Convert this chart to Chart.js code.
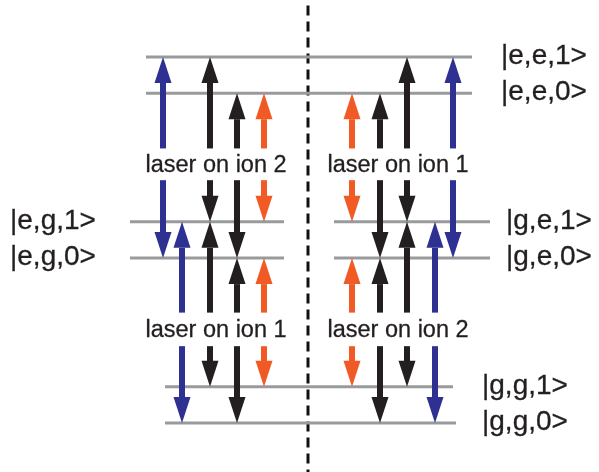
<!DOCTYPE html>
<html><head><meta charset="utf-8">
<script src="https://cdn.jsdelivr.net/npm/chart.js@4.4.1/dist/chart.umd.min.js"></script>
<style>html,body{margin:0;padding:0;background:#fff}#wrap{width:599px;height:472px}</style>
</head><body><div id="wrap"><canvas id="c" width="599" height="472"></canvas></div>
<script>
// ---- Energy levels (energy in arbitrary units, horizontal extent in diagram units) ----
const levelNames  = ['|g,g,0>','|g,g,1>','|e,g,0>','|e,g,1>','|g,e,0>','|g,e,1>','|e,e,0>','|e,e,1>'];
const levelEnergy = [0, 1, 4.55, 5.55, 4.55, 5.55, 9.1, 10.1];
const levelStart  = [16.5, 16.5, 13.0, 13.0, 33.4, 33.4, 14.6, 14.6];
const levelEnd    = [45.6, 45.3, 28.4, 28.4, 49.0, 49.0, 47.2, 47.2];
const labelX      = [48.2, 48.2, 1.0, 1.0, 50.6, 50.6, 50.1, 50.1];

// ---- Transitions: upper group (between |e,g>/|g,e> and |e,e>) ----
const upperColumn = [16.3, 21.0, 23.7, 26.4, 35.2, 38.0, 40.7, 45.3];
const upperUpTo   = [10.1, 10.1, 9.1, 9.1, 9.1, 9.1, 10.1, 10.1];
const upperDownTo = [4.55, 5.55, 4.55, 5.55, 5.55, 4.55, 5.55, 4.55];
const upperKind   = ['blue','carrier','carrier','red','red','carrier','carrier','blue'];
// ---- Transitions: lower group (between |g,g> and |e,g>/|g,e>) ----
const lowerColumn = [18.2, 21.0, 23.7, 26.4, 35.2, 38.0, 40.7, 43.5];
const lowerUpTo   = [5.55, 5.55, 4.55, 4.55, 4.55, 4.55, 5.55, 5.55];
const lowerDownTo = [0, 1, 0, 1, 1, 0, 1, 0];
const lowerKind   = ['blue','carrier','carrier','red','red','carrier','carrier','blue'];
// gap around the labels (energy units): [shaft start above label, shaft start below label]
const upperGap = [7.59, 6.7];
const lowerGap = [3.06, 2.12];

// ---- Laser labels ----
const laserText = ['laser on ion 2', 'laser on ion 1', 'laser on ion 1', 'laser on ion 2'];
const laserX    = [14.55, 32.75, 14.55, 32.75];
const laserE    = [6.926, 6.926, 2.373, 2.373];

// divider position
const dividerX = 30.8;

const kindColor = {blue:'#2E3192', carrier:'#231F20', red:'#F15A24'};
const levelColor = '#999A9C';

const arrows = [];
function addGroup(cols, upTo, downTo, kinds, gap){
  cols.forEach((c,i)=>{
    arrows.push({x:c, from:gap[0], to:upTo[i], color:kindColor[kinds[i]]});
    arrows.push({x:c, from:gap[1], to:downTo[i], color:kindColor[kinds[i]]});
  });
}
addGroup(upperColumn, upperUpTo, upperDownTo, upperKind, upperGap);
addGroup(lowerColumn, lowerUpTo, lowerDownTo, lowerKind, lowerGap);

const datasets = levelNames.map((n,i)=>({
  label:n,
  data:[{x:levelStart[i],y:levelEnergy[i]},{x:levelEnd[i],y:levelEnergy[i]}],
  showLine:true, borderColor:levelColor, borderWidth:3, pointRadius:0, fill:false, borderCapStyle:'butt'
}));
datasets.push({
  label:'divider',
  data:[{x:dividerX,y:-2},{x:dividerX,y:12}],
  showLine:true, borderColor:'#111', borderWidth:3, borderDash:[10,6], pointRadius:0, fill:false
});

const drawPlugin = {
  id:'diagram',
  afterDatasetsDraw(chart){
    const ctx = chart.ctx, xs = chart.scales.x, ys = chart.scales.y;
    const headW = 17, headL = 26, shaftW = 6;
    ctx.save();
    arrows.forEach(a=>{
      const px = xs.getPixelForValue(a.x);
      const y0 = ys.getPixelForValue(a.from);
      const y1 = ys.getPixelForValue(a.to);
      const dir = y1 < y0 ? -1 : 1;
      const base = y1 - dir*headL;
      ctx.fillStyle = a.color;
      ctx.fillRect(px - shaftW/2, Math.min(y0, base), shaftW, Math.abs(base - y0) + 0.5);
      ctx.beginPath();
      ctx.moveTo(px, y1);
      ctx.lineTo(px - headW/2, base);
      ctx.lineTo(px + headW/2, base);
      ctx.closePath();
      ctx.fill();
    });
    ctx.fillStyle = '#231F20';
    ctx.strokeStyle = '#231F20';
    ctx.lineWidth = 0.3;
    ctx.textBaseline = 'alphabetic';
    ctx.textAlign = 'left';
    ctx.font = '23.5px "Liberation Sans", Arial, sans-serif';
    laserText.forEach((t,i)=>{
      const x = xs.getPixelForValue(laserX[i]), y = ys.getPixelForValue(laserE[i]);
      ctx.fillText(t, x, y); ctx.strokeText(t, x, y);
    });
    ctx.font = '28px "Liberation Sans", Arial, sans-serif';
    levelNames.forEach((n,i)=>{
      const x = xs.getPixelForValue(labelX[i]), y = ys.getPixelForValue(levelEnergy[i]) + 7;
      ctx.fillText(n, x, y); ctx.strokeText(n, x, y);
    });
    ctx.restore();
  }
};

new Chart(document.getElementById('c'), {
  type:'scatter',
  data:{datasets},
  options:{
    responsive:false, animation:false, events:[],
    layout:{padding:0},
    plugins:{legend:{display:false}, tooltip:{enabled:false}},
    scales:{
      x:{type:'linear', min:0, max:59.9, display:false},
      y:{type:'linear', min:-1.352, max:11.672, display:false}
    }
  },
  plugins:[drawPlugin]
});
</script></body></html>
